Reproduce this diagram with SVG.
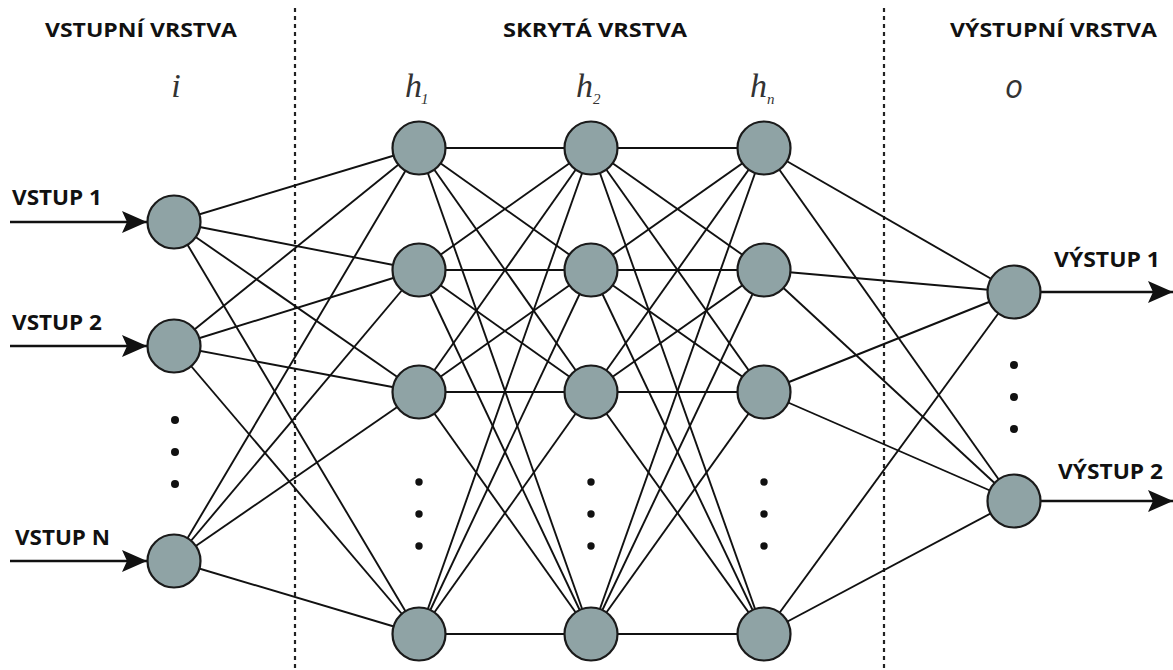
<svg xmlns="http://www.w3.org/2000/svg" width="1173" height="670" viewBox="0 0 1173 670">
<defs>
<style>
.hdr{font-family:"Open Sans","Liberation Sans",sans-serif;font-weight:bold;font-size:20px;fill:#111}
.io{font-family:"Open Sans","Liberation Sans",sans-serif;font-weight:bold;font-size:21px;fill:#111}
.math{font-family:"Liberation Serif","DejaVu Serif",serif;font-style:italic;font-size:34px;fill:#333}
.mo{font-family:"Open Sans","Liberation Sans",sans-serif;font-style:italic;font-size:32px;fill:#333}
.sub{font-family:"Liberation Serif","DejaVu Serif",serif;font-style:italic;font-size:15px;fill:#333}
.n{fill:#8fa3a5;stroke:#1a1a1a;stroke-width:2.2}
.e line{stroke:#111;stroke-width:1.9}
.sep{stroke:#222;stroke-width:2.2;stroke-dasharray:4 4}
.arr{stroke:#111;stroke-width:2.6}
.dot{fill:#111}
</style>
<marker id="ah2" viewBox="0 0 25 22" refX="25" refY="11" markerWidth="25" markerHeight="22" markerUnits="userSpaceOnUse" orient="auto">
<path d="M0,0 L25,11 L0,22 L5,11 Z" fill="#111"/>
</marker>
</defs>
<rect width="1173" height="670" fill="#fff"/>

<g id="separators">
<line class="sep" x1="295" y1="8" x2="295" y2="670"/>
<line class="sep" x1="884" y1="8" x2="884" y2="670"/>
</g>

<g id="headers">
<text class="hdr" x="45" y="37" textLength="192" lengthAdjust="spacingAndGlyphs">VSTUPNÍ VRSTVA</text>
<text class="hdr" x="503" y="37" textLength="184" lengthAdjust="spacingAndGlyphs">SKRYTÁ VRSTVA</text>
<text class="hdr" x="950" y="37" textLength="207" lengthAdjust="spacingAndGlyphs">VÝSTUPNÍ VRSTVA</text>
</g>

<g id="layer-labels">
<text class="math" x="176" y="97" text-anchor="middle">i</text>
<text class="math" x="405" y="97">h</text><text class="sub" x="421" y="104">1</text>
<text class="math" x="576" y="97">h</text><text class="sub" x="593" y="104">2</text>
<text class="math" x="750" y="97">h</text><text class="sub" x="767" y="104">n</text>
<text class="mo" x="1014" y="98" text-anchor="middle">o</text>
</g>

<g id="connectors" class="e">
<line x1="174" y1="222" x2="419" y2="148"/>
<line x1="174" y1="222" x2="419" y2="270"/>
<line x1="174" y1="222" x2="419" y2="392"/>
<line x1="174" y1="222" x2="419" y2="634"/>
<line x1="174" y1="346" x2="419" y2="148"/>
<line x1="174" y1="346" x2="419" y2="270"/>
<line x1="174" y1="346" x2="419" y2="392"/>
<line x1="174" y1="346" x2="419" y2="634"/>
<line x1="174" y1="561" x2="419" y2="148"/>
<line x1="174" y1="561" x2="419" y2="270"/>
<line x1="174" y1="561" x2="419" y2="392"/>
<line x1="174" y1="561" x2="419" y2="634"/>

<line x1="419" y1="148" x2="591" y2="148"/>
<line x1="419" y1="148" x2="591" y2="270"/>
<line x1="419" y1="148" x2="591" y2="392"/>
<line x1="419" y1="148" x2="591" y2="634"/>
<line x1="419" y1="270" x2="591" y2="148"/>
<line x1="419" y1="270" x2="591" y2="270"/>
<line x1="419" y1="270" x2="591" y2="392"/>
<line x1="419" y1="270" x2="591" y2="634"/>
<line x1="419" y1="392" x2="591" y2="148"/>
<line x1="419" y1="392" x2="591" y2="270"/>
<line x1="419" y1="392" x2="591" y2="392"/>
<line x1="419" y1="392" x2="591" y2="634"/>
<line x1="419" y1="634" x2="591" y2="148"/>
<line x1="419" y1="634" x2="591" y2="270"/>
<line x1="419" y1="634" x2="591" y2="392"/>
<line x1="419" y1="634" x2="591" y2="634"/>

<line x1="591" y1="148" x2="764" y2="148"/>
<line x1="591" y1="148" x2="764" y2="270"/>
<line x1="591" y1="148" x2="764" y2="392"/>
<line x1="591" y1="148" x2="764" y2="634"/>
<line x1="591" y1="270" x2="764" y2="148"/>
<line x1="591" y1="270" x2="764" y2="270"/>
<line x1="591" y1="270" x2="764" y2="392"/>
<line x1="591" y1="270" x2="764" y2="634"/>
<line x1="591" y1="392" x2="764" y2="148"/>
<line x1="591" y1="392" x2="764" y2="270"/>
<line x1="591" y1="392" x2="764" y2="392"/>
<line x1="591" y1="392" x2="764" y2="634"/>
<line x1="591" y1="634" x2="764" y2="148"/>
<line x1="591" y1="634" x2="764" y2="270"/>
<line x1="591" y1="634" x2="764" y2="392"/>
<line x1="591" y1="634" x2="764" y2="634"/>

<line x1="764" y1="148" x2="1014" y2="292"/>
<line x1="764" y1="148" x2="1014" y2="501"/>
<line x1="764" y1="270" x2="1014" y2="292"/>
<line x1="764" y1="270" x2="1014" y2="501"/>
<line x1="764" y1="392" x2="1014" y2="292"/>
<line x1="764" y1="392" x2="1014" y2="501"/>
<line x1="764" y1="634" x2="1014" y2="292"/>
<line x1="764" y1="634" x2="1014" y2="501"/>
</g>

<g id="input-arrows">
<line class="arr" x1="10" y1="222" x2="147" y2="222" marker-end="url(#ah2)"/>
<line class="arr" x1="10" y1="346" x2="147" y2="346" marker-end="url(#ah2)"/>
<line class="arr" x1="10" y1="561" x2="147" y2="561" marker-end="url(#ah2)"/>
<text class="io" x="12" y="205" textLength="90" lengthAdjust="spacingAndGlyphs">VSTUP 1</text>
<text class="io" x="12" y="330" textLength="90" lengthAdjust="spacingAndGlyphs">VSTUP 2</text>
<text class="io" x="15" y="545" textLength="95" lengthAdjust="spacingAndGlyphs">VSTUP N</text>
</g>

<g id="output-arrows">
<line class="arr" x1="1041" y1="292" x2="1173" y2="292" marker-end="url(#ah2)"/>
<line class="arr" x1="1041" y1="501" x2="1173" y2="501" marker-end="url(#ah2)"/>
<text class="io" x="1054" y="267" textLength="106" lengthAdjust="spacingAndGlyphs">VÝSTUP 1</text>
<text class="io" x="1058" y="479" textLength="105" lengthAdjust="spacingAndGlyphs">VÝSTUP 2</text>
</g>

<g id="input-layer">
<circle id="in1" class="n" cx="174" cy="222" r="26.5"/>
<circle id="in2" class="n" cx="174" cy="346" r="26.5"/>
<circle id="inN" class="n" cx="174" cy="561" r="26.5"/>
<circle class="dot" cx="175" cy="420" r="4"/>
<circle class="dot" cx="175" cy="452" r="4"/>
<circle class="dot" cx="175" cy="484" r="4"/>
</g>

<g id="hidden-1">
<circle class="n" cx="419" cy="148" r="26.5"/>
<circle class="n" cx="419" cy="270" r="26.5"/>
<circle class="n" cx="419" cy="392" r="26.5"/>
<circle class="n" cx="419" cy="634" r="26.5"/>
<circle class="dot" cx="419" cy="482" r="3.7"/>
<circle class="dot" cx="419" cy="514" r="3.7"/>
<circle class="dot" cx="419" cy="546" r="3.7"/>
</g>

<g id="hidden-2">
<circle class="n" cx="591" cy="148" r="26.5"/>
<circle class="n" cx="591" cy="270" r="26.5"/>
<circle class="n" cx="591" cy="392" r="26.5"/>
<circle class="n" cx="591" cy="634" r="26.5"/>
<circle class="dot" cx="591" cy="482" r="3.7"/>
<circle class="dot" cx="591" cy="514" r="3.7"/>
<circle class="dot" cx="591" cy="546" r="3.7"/>
</g>

<g id="hidden-n">
<circle class="n" cx="764" cy="148" r="26.5"/>
<circle class="n" cx="764" cy="270" r="26.5"/>
<circle class="n" cx="764" cy="392" r="26.5"/>
<circle class="n" cx="764" cy="634" r="26.5"/>
<circle class="dot" cx="764" cy="482" r="3.7"/>
<circle class="dot" cx="764" cy="514" r="3.7"/>
<circle class="dot" cx="764" cy="546" r="3.7"/>
</g>

<g id="output-layer">
<circle id="out1" class="n" cx="1014" cy="292" r="26.5"/>
<circle id="out2" class="n" cx="1014" cy="501" r="26.5"/>
<circle class="dot" cx="1014" cy="365" r="4"/>
<circle class="dot" cx="1014" cy="397" r="4"/>
<circle class="dot" cx="1014" cy="429" r="4"/>
</g>
</svg>
